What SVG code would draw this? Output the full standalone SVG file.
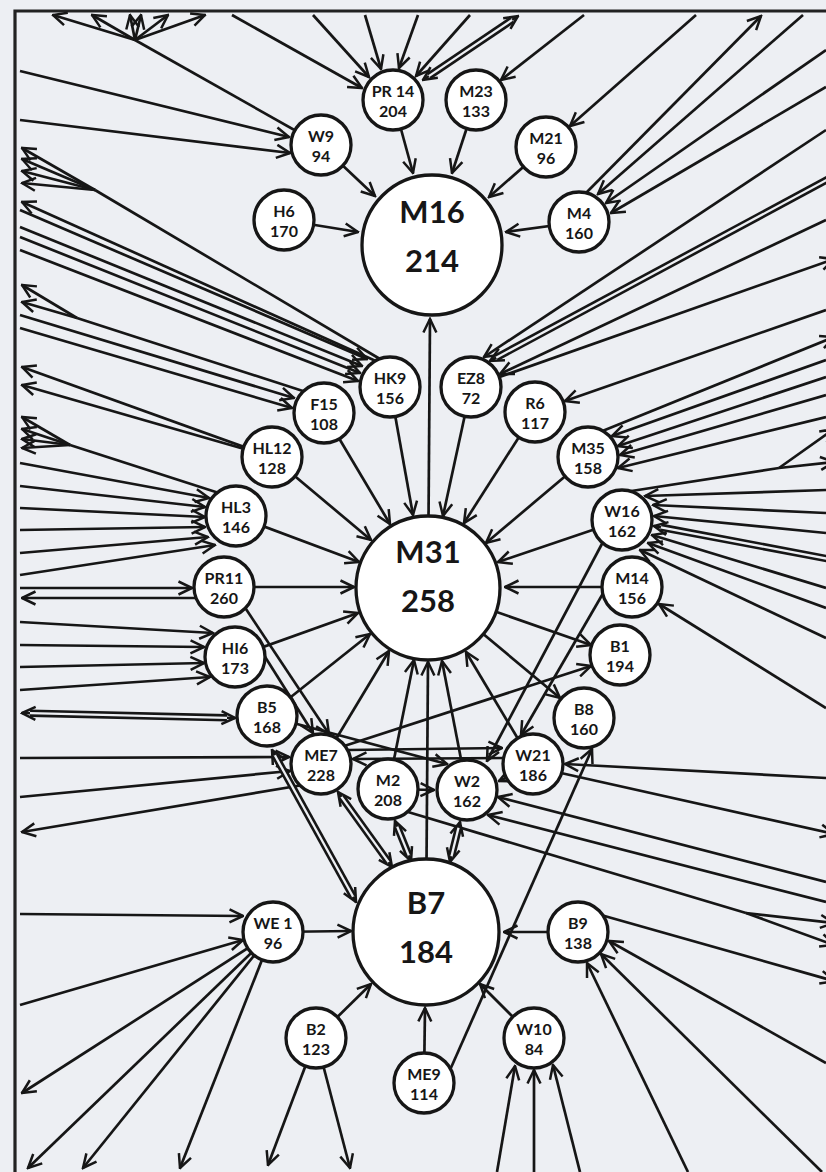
<svg xmlns="http://www.w3.org/2000/svg" width="826" height="1172" viewBox="0 0 826 1172">
<style>
.c{stroke:#161616;stroke-width:2.7;fill:none}
.ar{marker-end:url(#ah)}
.bi{marker-start:url(#ah);marker-end:url(#ah)}
.dbl{stroke:#161616;stroke-width:7.5}
.dbi{stroke:#edeff3;stroke-width:2.3}
.n circle{fill:#fff;stroke:#161616;stroke-width:3.3}
.n text{font-family:Lato,"Liberation Sans",sans-serif;font-weight:700;fill:#161616;text-anchor:middle}
.s{font-size:16px}
.b{font-size:31px}
</style>
<defs>
<marker id="ah" viewBox="0 0 16 16" refX="14.5" refY="8" markerWidth="16" markerHeight="16" orient="auto-start-reverse" markerUnits="userSpaceOnUse">
<path d="M1,1.5 L14.5,8 L1,14.5" fill="none" stroke="#161616" stroke-width="2.5"/>
</marker>
</defs>
<rect width="826" height="1172" fill="#edeff3"/>
<path d="M15,1172 V11 H826" fill="none" stroke="#222" stroke-width="3.2"/>

<g id="connectors">
<!-- W9 bundle to the top edge -->
<line class="c" x1="321" y1="145" x2="135" y2="40"/>
<line class="c ar" x1="135" y1="40" x2="53" y2="15"/>
<line class="c ar" x1="135" y1="40" x2="92" y2="15"/>
<line class="c ar" x1="135" y1="40" x2="130" y2="15"/>
<line class="c ar" x1="135" y1="40" x2="141" y2="15"/>
<line class="c ar" x1="135" y1="40" x2="168" y2="15"/>
<line class="c ar" x1="135" y1="40" x2="205" y2="15"/>
<line class="c ar" x1="20" y1="71" x2="289" y2="137"/>
<line class="c ar" x1="20" y1="120" x2="290" y2="153"/>
<!-- into PR 14 -->
<line class="c ar" x1="232" y1="15" x2="362" y2="88"/>
<line class="c ar" x1="313" y1="15" x2="369" y2="77"/>
<line class="c ar" x1="365" y1="15" x2="381" y2="69"/>
<line class="c ar" x1="418" y1="15" x2="399" y2="68"/>
<line class="c ar" x1="470" y1="15" x2="416" y2="76"/>
<g><line class="c bi" x1="423" y1="80" x2="518" y2="16"/><line class="dbl" x1="428.8" y1="76.1" x2="512.2" y2="19.9"/><line class="dbi" x1="428.8" y1="76.1" x2="512.2" y2="19.9"/></g>
<line class="c ar" x1="584" y1="15" x2="501" y2="80"/>
<line class="c ar" x1="696" y1="15" x2="570" y2="126"/>
<!-- M4 -->
<line class="c ar" x1="583" y1="196" x2="761" y2="16"/>
<line class="c ar" x1="803" y1="15" x2="598" y2="194"/>
<line class="c ar" x1="826" y1="50" x2="606" y2="203"/>
<line class="c ar" x1="826" y1="87" x2="611" y2="213"/>
<!-- into M16 -->
<line class="c ar" x1="393" y1="100" x2="413" y2="173"/>
<line class="c ar" x1="476" y1="100" x2="452" y2="173"/>
<line class="c ar" x1="321" y1="145" x2="375" y2="196"/>
<line class="c ar" x1="546" y1="147" x2="489" y2="197"/>
<line class="c ar" x1="284" y1="220" x2="358" y2="232"/>
<line class="c ar" x1="579" y1="222" x2="506" y2="232"/>
<line class="c ar" x1="428" y1="588" x2="430" y2="319"/>
<!-- HK9 -->
<line class="c" x1="385" y1="362" x2="95" y2="190"/>
<line class="c ar" x1="95" y1="190" x2="22" y2="148"/>
<line class="c ar" x1="95" y1="190" x2="22" y2="159"/>
<line class="c ar" x1="95" y1="190" x2="22" y2="171"/>
<line class="c ar" x1="95" y1="190" x2="22" y2="183"/>
<line class="c ar" x1="378" y1="362" x2="22" y2="202"/>
<line class="c ar" x1="20" y1="210" x2="367" y2="359"/>
<line class="c ar" x1="20" y1="227" x2="362" y2="366"/>
<line class="c ar" x1="20" y1="237" x2="360" y2="373"/>
<line class="c ar" x1="20" y1="250" x2="358" y2="381"/>
<!-- F15 -->
<line class="c" x1="306" y1="392" x2="77" y2="318"/>
<line class="c ar" x1="77" y1="318" x2="22" y2="285"/>
<line class="c ar" x1="77" y1="318" x2="22" y2="302"/>
<line class="c ar" x1="20" y1="315" x2="294" y2="398"/>
<line class="c ar" x1="20" y1="328" x2="292" y2="408"/>
<!-- HL12 -->
<line class="c ar" x1="272" y1="457" x2="22" y2="367"/>
<line class="c ar" x1="272" y1="457" x2="22" y2="385"/>
<!-- HL3 -->
<line class="c" x1="222" y1="494" x2="70" y2="445"/>
<line class="c ar" x1="70" y1="445" x2="22" y2="417"/>
<line class="c ar" x1="70" y1="445" x2="22" y2="429"/>
<line class="c ar" x1="70" y1="445" x2="22" y2="439"/>
<line class="c ar" x1="70" y1="445" x2="22" y2="448"/>
<line class="c ar" x1="20" y1="463" x2="209" y2="498"/>
<line class="c ar" x1="20" y1="486" x2="205" y2="507"/>
<line class="c ar" x1="20" y1="508" x2="205" y2="517"/>
<line class="c ar" x1="20" y1="530" x2="205" y2="527"/>
<line class="c ar" x1="20" y1="553" x2="208" y2="537"/>
<line class="c ar" x1="20" y1="575" x2="215" y2="545"/>
<!-- PR11 -->
<line class="c ar" x1="20" y1="588" x2="192" y2="588"/>
<line class="c ar" x1="200" y1="598" x2="22" y2="598"/>
<!-- HI6 -->
<line class="c ar" x1="20" y1="622" x2="213" y2="633"/>
<line class="c ar" x1="20" y1="645" x2="204" y2="647"/>
<line class="c ar" x1="20" y1="667" x2="204" y2="663"/>
<line class="c ar" x1="20" y1="690" x2="210" y2="677"/>
<!-- B5 -->
<g><line class="c bi" x1="22" y1="713" x2="235" y2="718"/><line class="dbl" x1="30" y1="713.2" x2="227" y2="717.8"/><line class="dbi" x1="30" y1="713.2" x2="227" y2="717.8"/></g>
<!-- ME7 left side -->
<line class="c ar" x1="20" y1="758" x2="289" y2="757"/>
<line class="c ar" x1="20" y1="797" x2="290" y2="771"/>
<line class="c ar" x1="303" y1="785" x2="22" y2="832"/>
<!-- WE 1 -->
<line class="c ar" x1="20" y1="914" x2="243" y2="916"/>
<line class="c ar" x1="20" y1="1005" x2="243" y2="940"/>
<line class="c ar" x1="273" y1="932" x2="22" y2="1093"/>
<line class="c ar" x1="273" y1="932" x2="28" y2="1168"/>
<line class="c ar" x1="273" y1="932" x2="83" y2="1168"/>
<line class="c ar" x1="273" y1="932" x2="180" y2="1168"/>
<line class="c ar" x1="273" y1="932" x2="351" y2="931"/>
<!-- B2 -->
<line class="c ar" x1="316" y1="1038" x2="371" y2="984"/>
<line class="c ar" x1="316" y1="1038" x2="268" y2="1165"/>
<line class="c ar" x1="316" y1="1038" x2="350" y2="1168"/>
<!-- ME9 -->
<line class="c ar" x1="424" y1="1083" x2="425" y2="1008"/>
<line class="c ar" x1="450" y1="1070" x2="592" y2="749"/>
<!-- W10 -->
<line class="c ar" x1="534" y1="1038" x2="480" y2="984"/>
<line class="c ar" x1="497" y1="1172" x2="515" y2="1066"/>
<line class="c ar" x1="534" y1="1172" x2="534" y2="1070"/>
<line class="c ar" x1="580" y1="1172" x2="553" y2="1065"/>
<!-- B9 -->
<line class="c ar" x1="578" y1="932" x2="504" y2="932"/>
<line class="c ar" x1="688" y1="1172" x2="587" y2="963"/>
<line class="c ar" x1="822" y1="1172" x2="601" y2="954"/>
<line class="c ar" x1="826" y1="1063" x2="609" y2="941"/>
<line class="c ar" x1="601" y1="915" x2="834" y2="981"/>
<!-- right edge, lower -->
<line class="c ar" x1="826" y1="778" x2="565" y2="764"/>
<line class="c ar" x1="561" y1="773" x2="834" y2="834"/>
<line class="c ar" x1="826" y1="882" x2="498" y2="797"/>
<line class="c ar" x1="826" y1="902" x2="488" y2="815"/>
<line class="c" x1="408" y1="812" x2="746" y2="913"/>
<line class="c ar" x1="746" y1="913" x2="834" y2="923"/>
<line class="c ar" x1="746" y1="913" x2="834" y2="945"/>
<!-- EZ8 / R6 / M35 -->
<line class="c ar" x1="826" y1="130" x2="484" y2="357"/>
<g><line class="c ar" x1="834" y1="176" x2="490" y2="361"/><line class="dbl" x1="834" y1="176" x2="496.2" y2="357.7"/><line class="dbi" x1="834" y1="176" x2="496.2" y2="357.7"/></g>
<line class="c ar" x1="826" y1="220" x2="500" y2="374"/>
<line class="c ar" x1="471" y1="387" x2="834" y2="259"/>
<line class="c ar" x1="826" y1="310" x2="565" y2="401"/>
<line class="c ar" x1="600" y1="432" x2="834" y2="337"/>
<line class="c ar" x1="826" y1="360" x2="612" y2="436"/>
<line class="c ar" x1="826" y1="377" x2="618" y2="446"/>
<line class="c ar" x1="826" y1="395" x2="620" y2="455"/>
<line class="c ar" x1="826" y1="417" x2="618" y2="468"/>
<!-- W16 -->
<line class="c" x1="625" y1="492" x2="779" y2="468"/>
<line class="c ar" x1="779" y1="468" x2="834" y2="429"/>
<line class="c ar" x1="779" y1="468" x2="834" y2="462"/>
<line class="c ar" x1="826" y1="490" x2="645" y2="496"/>
<line class="c ar" x1="826" y1="513" x2="653" y2="505"/>
<line class="c ar" x1="826" y1="533" x2="654" y2="516"/>
<g><line class="c ar" x1="834" y1="560" x2="654" y2="526"/><line class="dbl" x1="834" y1="560" x2="660.9" y2="527.3"/><line class="dbi" x1="834" y1="560" x2="660.9" y2="527.3"/></g>
<line class="c ar" x1="826" y1="588" x2="652" y2="535"/>
<line class="c ar" x1="826" y1="608" x2="648" y2="543"/>
<line class="c ar" x1="826" y1="638" x2="640" y2="550"/>
<!-- M14 -->
<line class="c ar" x1="826" y1="708" x2="659" y2="604"/>
<line class="c ar" x1="632" y1="587" x2="505" y2="587"/>
<!-- into M31 -->
<line class="c ar" x1="622" y1="520" x2="498" y2="562"/>
<line class="c ar" x1="588" y1="457" x2="486" y2="543"/>
<line class="c ar" x1="535" y1="412" x2="464" y2="523"/>
<line class="c ar" x1="471" y1="387" x2="443" y2="516"/>
<line class="c ar" x1="390" y1="387" x2="413" y2="515"/>
<line class="c ar" x1="324" y1="413" x2="390" y2="524"/>
<line class="c ar" x1="272" y1="457" x2="371" y2="540"/>
<line class="c ar" x1="236" y1="516" x2="359" y2="562"/>
<line class="c ar" x1="224" y1="587" x2="354" y2="587"/>
<line class="c ar" x1="235" y1="657" x2="358" y2="613"/>
<line class="c ar" x1="267" y1="716" x2="370" y2="634"/>
<line class="c ar" x1="321" y1="764" x2="389" y2="651"/>
<line class="c ar" x1="388" y1="789" x2="414" y2="660"/>
<line class="c ar" x1="426" y1="932" x2="428" y2="662"/>
<line class="c ar" x1="467" y1="790" x2="442" y2="661"/>
<line class="c ar" x1="533" y1="764" x2="466" y2="652"/>
<!-- out of M31 -->
<line class="c ar" x1="428" y1="588" x2="591" y2="645"/>
<line class="c ar" x1="428" y1="588" x2="560" y2="698"/>
<!-- middle cluster -->
<line class="c ar" x1="604" y1="540" x2="487" y2="761"/>
<line class="c ar" x1="605" y1="590" x2="521" y2="735"/>
<line class="c ar" x1="338" y1="748" x2="591" y2="666"/>
<line class="c ar" x1="348" y1="750" x2="502" y2="748"/>
<line class="c ar" x1="505" y1="758" x2="353" y2="759"/>
<line class="c ar" x1="267" y1="716" x2="447" y2="764"/>
<line class="c ar" x1="388" y1="789" x2="434" y2="790"/>
<line class="c ar" x1="512" y1="775" x2="499" y2="781"/>
<line class="c ar" x1="262" y1="652" x2="313" y2="733"/>
<line class="c ar" x1="240" y1="600" x2="329" y2="734"/>
<!-- double links around B7 -->
<g><line class="c bi" x1="395" y1="821" x2="411" y2="861"/><line class="dbl" x1="397.2" y1="826.6" x2="408.8" y2="855.4"/><line class="dbi" x1="397.2" y1="826.6" x2="408.8" y2="855.4"/></g>
<g><line class="c bi" x1="460" y1="822" x2="450" y2="862"/><line class="dbl" x1="458.5" y1="827.8" x2="451.5" y2="856.2"/><line class="dbi" x1="458.5" y1="827.8" x2="451.5" y2="856.2"/></g>
<g><line class="c bi" x1="338" y1="792" x2="392" y2="867"/><line class="dbl" x1="341.5" y1="796.9" x2="388.5" y2="862.1"/><line class="dbi" x1="341.5" y1="796.9" x2="388.5" y2="862.1"/></g>
<g><line class="c bi" x1="272" y1="750" x2="356" y2="902"/><line class="dbl" x1="274.9" y1="755.3" x2="353.1" y2="896.8"/><line class="dbi" x1="274.9" y1="755.3" x2="353.1" y2="896.8"/></g>
</g>

<g id="node-M16" class="n"><circle cx="432" cy="245" r="70"/><text class="b" x="432" y="223">M16</text><text class="b" x="432" y="272">214</text></g>
<g id="node-M31" class="n"><circle cx="428" cy="588" r="72"/><text class="b" x="428" y="563">M31</text><text class="b" x="428" y="612">258</text></g>
<g id="node-B7" class="n"><circle cx="426" cy="932" r="73"/><text class="b" x="426" y="914">B7</text><text class="b" x="426" y="963">184</text></g>
<g id="node-PR14" class="n"><circle cx="393" cy="100" r="30"/><text class="s" x="393" y="97">PR 14</text><text class="s" x="393" y="117">204</text></g>
<g id="node-M23" class="n"><circle cx="476" cy="100" r="30"/><text class="s" x="476" y="97">M23</text><text class="s" x="476" y="117">133</text></g>
<g id="node-W9" class="n"><circle cx="321" cy="145" r="30"/><text class="s" x="321" y="142">W9</text><text class="s" x="321" y="162">94</text></g>
<g id="node-M21" class="n"><circle cx="546" cy="147" r="30"/><text class="s" x="546" y="144">M21</text><text class="s" x="546" y="164">96</text></g>
<g id="node-H6" class="n"><circle cx="284" cy="220" r="30"/><text class="s" x="284" y="217">H6</text><text class="s" x="284" y="237">170</text></g>
<g id="node-M4" class="n"><circle cx="579" cy="222" r="30"/><text class="s" x="579" y="219">M4</text><text class="s" x="579" y="239">160</text></g>
<g id="node-HK9" class="n"><circle cx="390" cy="387" r="30"/><text class="s" x="390" y="384">HK9</text><text class="s" x="390" y="404">156</text></g>
<g id="node-EZ8" class="n"><circle cx="471" cy="387" r="30"/><text class="s" x="471" y="384">EZ8</text><text class="s" x="471" y="404">72</text></g>
<g id="node-F15" class="n"><circle cx="324" cy="413" r="30"/><text class="s" x="324" y="410">F15</text><text class="s" x="324" y="430">108</text></g>
<g id="node-R6" class="n"><circle cx="535" cy="412" r="30"/><text class="s" x="535" y="409">R6</text><text class="s" x="535" y="429">117</text></g>
<g id="node-HL12" class="n"><circle cx="272" cy="457" r="30"/><text class="s" x="272" y="454">HL12</text><text class="s" x="272" y="474">128</text></g>
<g id="node-M35" class="n"><circle cx="588" cy="457" r="30"/><text class="s" x="588" y="454">M35</text><text class="s" x="588" y="474">158</text></g>
<g id="node-HL3" class="n"><circle cx="236" cy="516" r="30"/><text class="s" x="236" y="513">HL3</text><text class="s" x="236" y="533">146</text></g>
<g id="node-W16" class="n"><circle cx="622" cy="520" r="30"/><text class="s" x="622" y="517">W16</text><text class="s" x="622" y="537">162</text></g>
<g id="node-PR11" class="n"><circle cx="224" cy="587" r="30"/><text class="s" x="224" y="584">PR11</text><text class="s" x="224" y="604">260</text></g>
<g id="node-M14" class="n"><circle cx="632" cy="587" r="30"/><text class="s" x="632" y="584">M14</text><text class="s" x="632" y="604">156</text></g>
<g id="node-HI6" class="n"><circle cx="235" cy="657" r="30"/><text class="s" x="235" y="654">HI6</text><text class="s" x="235" y="674">173</text></g>
<g id="node-B1" class="n"><circle cx="620" cy="655" r="30"/><text class="s" x="620" y="652">B1</text><text class="s" x="620" y="672">194</text></g>
<g id="node-B5" class="n"><circle cx="267" cy="716" r="30"/><text class="s" x="267" y="713">B5</text><text class="s" x="267" y="733">168</text></g>
<g id="node-B8" class="n"><circle cx="584" cy="718" r="30"/><text class="s" x="584" y="715">B8</text><text class="s" x="584" y="735">160</text></g>
<g id="node-ME7" class="n"><circle cx="321" cy="764" r="30"/><text class="s" x="321" y="761">ME7</text><text class="s" x="321" y="781">228</text></g>
<g id="node-W21" class="n"><circle cx="533" cy="764" r="30"/><text class="s" x="533" y="761">W21</text><text class="s" x="533" y="781">186</text></g>
<g id="node-M2" class="n"><circle cx="388" cy="789" r="30"/><text class="s" x="388" y="786">M2</text><text class="s" x="388" y="806">208</text></g>
<g id="node-W2" class="n"><circle cx="467" cy="790" r="30"/><text class="s" x="467" y="787">W2</text><text class="s" x="467" y="807">162</text></g>
<g id="node-WE1" class="n"><circle cx="273" cy="932" r="30"/><text class="s" x="273" y="929">WE 1</text><text class="s" x="273" y="949">96</text></g>
<g id="node-B9" class="n"><circle cx="578" cy="932" r="30"/><text class="s" x="578" y="929">B9</text><text class="s" x="578" y="949">138</text></g>
<g id="node-B2" class="n"><circle cx="316" cy="1038" r="30"/><text class="s" x="316" y="1035">B2</text><text class="s" x="316" y="1055">123</text></g>
<g id="node-W10" class="n"><circle cx="534" cy="1038" r="30"/><text class="s" x="534" y="1035">W10</text><text class="s" x="534" y="1055">84</text></g>
<g id="node-ME9" class="n"><circle cx="424" cy="1083" r="30"/><text class="s" x="424" y="1080">ME9</text><text class="s" x="424" y="1100">114</text></g>
</svg>
